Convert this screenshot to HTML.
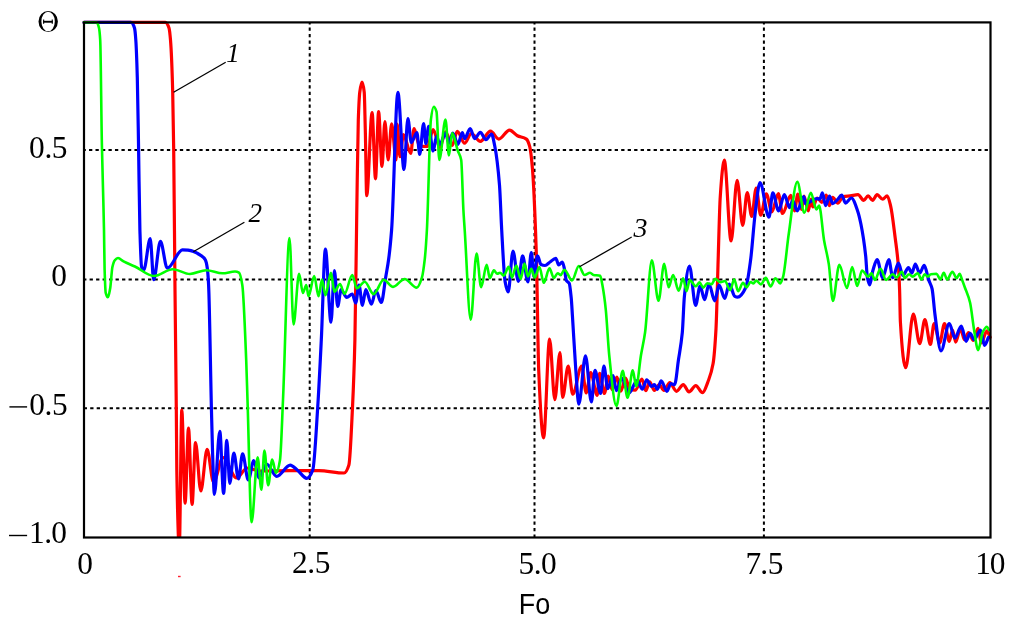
<!DOCTYPE html>
<html><head><meta charset="utf-8"><style>
html,body{margin:0;padding:0;background:#fff;width:1017px;height:624px;overflow:hidden}
svg{display:block;will-change:transform}
.g{stroke:#000;stroke-width:2;fill:none}
.f{stroke:#000;stroke-width:2.2;fill:none}
.l{stroke:#000;stroke-width:1.3}
.r{stroke:#ff0000;stroke-width:3.2;fill:none;stroke-linejoin:round;stroke-linecap:round}
.b{stroke:#0000ff;stroke-width:3.2;fill:none;stroke-linejoin:round;stroke-linecap:round}
.gr{stroke:#00ff00;stroke-width:2.6;fill:none;stroke-linejoin:round;stroke-linecap:round}
text{font-family:"Liberation Serif",serif;fill:#000}
.s{font-family:"Liberation Sans",sans-serif}
.i{font-style:italic}
</style></head><body>
<svg width="1017" height="624" viewBox="0 0 1017 624">
<line x1="309.7" y1="22.4" x2="309.7" y2="537.5" class="g" stroke-dasharray="3.25 3.165" stroke-dashoffset="1.215"/>
<line x1="534.5" y1="22.4" x2="534.5" y2="537.5" class="g" stroke-dasharray="3.25 3.165" stroke-dashoffset="1.215"/>
<line x1="763.9" y1="22.4" x2="763.9" y2="537.5" class="g" stroke-dasharray="3.25 3.165" stroke-dashoffset="1.215"/>
<line x1="84.0" y1="150.0" x2="990.5" y2="150.0" class="g" stroke-dasharray="3.3 3.19" stroke-dashoffset="1.49"/>
<line x1="84.0" y1="279.5" x2="990.5" y2="279.5" class="g" stroke-dasharray="3.3 3.19" stroke-dashoffset="0.89"/>
<line x1="84.0" y1="408.2" x2="990.5" y2="408.2" class="g" stroke-dasharray="3.3 3.19" stroke-dashoffset="0.29"/>
<defs><clipPath id="c"><rect x="0" y="0" width="1017" height="537.2"/></clipPath></defs>
<path class="r" clip-path="url(#c)" d="M84.0 22.4C111.1 22.4 138.3 22.4 165.4 22.4C166.6 22.4 167.8 24.6 169.0 28.0C169.5 29.4 170.0 34.2 170.5 40.0C171.2 48.5 172.0 66.0 172.7 92.0C173.0 103.8 173.4 125.2 173.7 150.0C174.1 182.3 174.6 247.3 175.0 290.0C175.4 332.7 175.9 361.5 176.3 408.0C176.5 425.9 176.6 460.4 176.8 470.0C177.6 517.9 178.5 548.0 179.3 548.0C180.1 548.0 181.0 410.1 181.8 410.1C182.9 410.1 184.0 503.2 185.1 503.2C186.2 503.2 187.4 428.0 188.5 428.0C189.7 428.0 190.9 504.4 192.1 504.4C193.2 504.4 194.4 442.6 195.5 442.6C197.3 442.6 199.0 490.9 200.8 490.9C202.9 490.9 205.0 449.4 207.1 449.4C209.2 449.4 211.4 482.0 213.5 482.0C216.7 482.0 219.8 457.5 223.0 457.5C227.5 457.5 232.0 478.0 236.5 478.0C240.0 478.0 243.5 468.0 247.0 468.0C251.3 468.0 255.7 471.0 260.0 471.0C270.0 471.0 280.0 470.6 290.0 470.6C299.6 470.6 309.3 470.6 318.9 470.6C327.3 470.6 335.7 473.0 344.1 473.0C345.7 473.0 347.3 470.0 348.9 465.0C350.1 461.2 351.3 432.2 352.5 407.3C353.3 390.7 354.1 372.3 354.9 340.0C355.5 314.4 356.2 250.4 356.8 210.0C357.3 178.1 357.8 134.2 358.3 120.0C358.8 105.8 359.3 95.8 359.8 92.0C360.5 86.4 361.3 82.0 362.0 82.0C362.7 82.0 363.5 85.6 364.2 92.0C364.6 95.2 364.9 115.5 365.3 130.0C365.8 148.5 366.2 195.7 366.7 195.7C368.5 195.7 370.3 112.6 372.1 112.6C373.2 112.6 374.4 178.8 375.5 178.8C376.5 178.8 377.6 111.5 378.6 111.5C379.7 111.5 380.9 166.5 382.0 166.5C383.0 166.5 383.9 121.6 384.9 121.6C386.0 121.6 387.1 159.8 388.2 159.8C389.3 159.8 390.5 123.9 391.6 123.9C393.1 123.9 394.6 159.8 396.1 159.8C396.5 159.8 396.8 124.1 397.2 124.1C398.1 124.1 399.1 156.6 400.0 156.6C401.1 156.6 402.3 134.7 403.4 134.7C405.8 134.7 408.3 153.3 410.7 153.3C411.8 153.3 413.0 128.6 414.1 128.6C415.9 128.6 417.7 145.8 419.5 146.0C422.2 146.3 424.8 146.5 427.5 146.5C429.4 146.5 431.3 129.7 433.2 129.7C435.4 129.7 437.7 147.6 439.9 147.6C441.8 147.6 443.6 131.9 445.5 131.9C447.7 131.9 450.0 145.4 452.2 145.4C453.9 145.4 455.6 131.4 457.3 131.4C459.7 131.4 462.2 143.2 464.6 143.2C466.9 143.2 469.1 133.5 471.4 133.5C474.4 133.5 477.4 141.3 480.4 141.3C483.8 141.3 487.1 131.2 490.5 131.2C493.3 131.2 496.0 139.1 498.8 139.1C502.4 139.1 506.0 130.1 509.6 130.1C512.2 130.1 514.8 134.4 517.4 135.7C520.4 137.2 523.4 136.9 526.4 139.1C527.5 139.9 528.7 142.7 529.8 146.9C530.7 150.2 531.6 158.9 532.5 169.4C533.2 177.9 534.0 193.4 534.7 209.8C535.3 223.2 535.9 238.7 536.5 260.0C537.2 286.0 538.0 352.9 538.7 370.0C540.3 408.1 542.0 437.8 543.6 437.8C545.6 437.8 547.6 339.1 549.6 339.1C551.3 339.1 553.1 399.7 554.8 399.7C556.5 399.7 558.3 352.5 560.0 352.5C560.9 352.5 561.7 397.4 562.6 397.4C564.5 397.4 566.3 366.0 568.2 366.0C569.7 366.0 571.2 394.1 572.7 394.1C575.7 394.1 578.7 366.0 581.7 366.0C583.2 366.0 584.7 392.9 586.2 392.9C587.7 392.9 589.2 372.7 590.7 372.7C592.9 372.7 595.0 395.4 597.2 395.4C598.0 395.4 598.8 373.3 599.6 373.3C601.2 373.3 602.8 393.5 604.4 393.5C605.7 393.5 607.0 376.2 608.3 376.2C609.6 376.2 610.8 389.6 612.1 389.6C613.7 389.6 615.3 377.1 616.9 377.1C618.2 377.1 619.5 391.1 620.8 391.1C622.4 391.1 624.0 378.1 625.6 378.1C626.9 378.1 628.1 388.1 629.4 388.7C631.3 389.6 633.3 390.1 635.2 390.1C637.4 390.1 639.7 379.0 641.9 379.0C643.2 379.0 644.5 390.6 645.8 390.6C647.1 390.6 648.3 381.9 649.6 381.9C651.2 381.9 652.8 390.4 654.4 390.4C656.0 390.4 657.6 384.6 659.2 384.6C660.8 384.6 662.4 390.4 664.0 390.4C665.9 390.4 667.9 382.7 669.8 382.7C672.0 382.7 674.3 391.3 676.5 391.3C678.8 391.3 681.0 384.6 683.3 384.6C685.2 384.6 687.1 391.9 689.0 391.9C691.3 391.9 693.5 385.6 695.8 385.6C698.0 385.6 700.3 392.7 702.5 392.7C704.4 392.7 706.4 385.9 708.3 380.8C709.9 376.6 711.5 372.8 713.1 363.5C714.1 357.9 715.0 346.2 716.0 328.8C716.3 323.4 716.6 313.1 716.9 303.8C717.3 292.4 717.6 276.9 718.0 264.9C718.8 239.8 719.5 207.2 720.3 196.1C721.6 176.8 723.0 160.2 724.3 160.2C726.6 160.2 728.8 241.0 731.1 241.0C733.1 241.0 735.1 180.4 737.1 180.4C739.0 180.4 740.8 225.3 742.7 225.3C744.2 225.3 745.7 192.7 747.2 192.7C748.7 192.7 750.2 216.3 751.7 216.3C753.2 216.3 754.7 188.2 756.2 188.2C757.7 188.2 759.2 215.2 760.7 215.2C762.6 215.2 764.4 193.9 766.3 193.9C768.2 193.9 770.0 211.8 771.9 211.8C774.0 211.8 776.2 193.5 778.3 193.5C779.7 193.5 781.1 213.5 782.5 213.5C785.3 213.5 788.0 195.4 790.8 195.4C792.0 195.4 793.3 211.0 794.5 211.0C795.6 211.0 796.7 194.0 797.8 194.0C799.0 194.0 800.3 209.5 801.5 209.5C802.3 209.5 803.2 196.0 804.0 196.0C805.4 196.0 806.9 210.8 808.3 210.8C809.2 210.8 810.1 199.2 811.0 199.2C811.6 199.2 812.2 206.9 812.8 206.9C814.3 206.9 815.8 198.0 817.3 198.0C818.8 198.0 820.3 202.4 821.8 202.4C823.3 202.4 824.8 195.1 826.3 195.1C827.4 195.1 828.4 205.6 829.5 205.6C830.6 205.6 831.6 197.3 832.7 197.3C834.4 197.3 836.1 203.1 837.8 203.1C839.5 203.1 841.3 197.1 843.0 196.7C845.4 196.1 847.8 196.1 850.2 195.8C852.8 195.5 855.4 194.7 858.0 194.7C859.9 194.7 861.8 200.3 863.7 200.3C865.2 200.3 866.6 195.8 868.1 195.8C869.6 195.8 871.1 200.3 872.6 200.3C874.1 200.3 875.6 194.7 877.1 194.7C879.0 194.7 880.8 199.2 882.7 199.2C884.2 199.2 885.7 195.8 887.2 195.8C888.3 195.8 889.5 201.3 890.6 205.9C892.1 212.0 893.6 225.5 895.1 237.3C896.2 245.9 897.3 252.3 898.4 266.5C898.8 271.7 899.2 279.2 899.6 290.0C899.9 297.2 900.1 317.5 900.4 322.0C902.2 351.8 903.9 367.7 905.7 367.7C908.2 367.7 910.8 314.0 913.3 314.0C915.4 314.0 917.6 343.7 919.7 343.7C921.4 343.7 923.2 319.6 924.9 319.6C926.7 319.6 928.6 344.5 930.4 344.5C931.6 344.5 932.9 323.6 934.1 323.6C936.0 323.6 937.8 342.9 939.7 342.9C941.3 342.9 942.9 323.6 944.5 323.6C946.1 323.6 947.7 341.3 949.3 341.3C950.4 341.3 951.4 330.0 952.5 330.0C953.6 330.0 954.6 342.1 955.7 342.1C957.3 342.1 958.9 328.4 960.5 328.4C961.8 328.4 963.2 339.7 964.5 339.7C965.8 339.7 967.2 332.5 968.5 332.5C970.1 332.5 971.7 340.5 973.3 340.5C974.9 340.5 976.5 328.4 978.1 328.4C979.2 328.4 980.2 342.9 981.3 342.9C983.2 342.9 985.0 330.9 986.9 330.9C988.0 330.9 989.0 335.2 990.1 337.3"/>
<path class="b" d="M84.0 22.4C99.7 22.4 115.3 22.4 131.0 22.4C132.2 22.4 133.3 24.4 134.5 28.0C134.9 29.3 135.4 34.2 135.8 40.0C136.3 46.7 136.8 60.1 137.3 77.5C137.7 92.6 138.2 124.6 138.6 150.0C139.0 175.4 139.5 215.8 139.9 230.0C140.5 248.6 141.0 265.6 141.6 267.0C142.3 268.8 143.1 269.8 143.8 269.8C145.9 269.8 148.1 238.7 150.2 238.7C151.4 238.7 152.5 279.7 153.7 279.7C155.9 279.7 158.2 241.3 160.4 241.3C162.7 241.3 165.0 268.2 167.3 268.2C172.4 268.2 177.4 249.8 182.5 249.8C184.3 249.8 186.2 250.0 188.0 250.2C192.5 250.7 197.0 252.9 201.5 255.8C202.8 256.6 204.1 257.6 205.4 260.0C206.0 261.2 206.7 264.0 207.3 268.3C207.7 271.2 208.2 276.9 208.6 285.0C209.5 302.4 210.5 370.3 211.4 408.0C211.8 422.8 212.1 439.2 212.5 450.0C213.1 468.7 213.8 494.3 214.4 494.3C216.2 494.3 218.0 431.4 219.8 431.4C221.1 431.4 222.3 493.4 223.6 493.4C224.7 493.4 225.7 440.4 226.8 440.4C227.8 440.4 228.8 483.3 229.8 483.3C231.1 483.3 232.5 453.0 233.8 453.0C235.4 453.0 236.9 478.9 238.5 478.9C239.9 478.9 241.2 453.9 242.6 453.9C244.5 453.9 246.4 480.0 248.3 480.0C250.1 480.0 252.0 460.7 253.8 460.7C255.5 460.7 257.3 478.0 259.0 478.0C261.5 478.0 264.1 464.0 266.6 464.0C270.0 464.0 273.3 476.3 276.7 476.3C281.2 476.3 285.7 465.1 290.2 465.1C292.5 465.1 294.9 468.1 297.2 469.9C300.4 472.3 303.6 478.3 306.8 478.3C308.8 478.3 310.8 475.1 312.8 469.9C314.4 465.7 316.1 432.3 317.7 407.3C318.9 388.9 320.1 364.3 321.3 340.0C322.7 312.3 324.0 249.2 325.4 249.2C327.3 249.2 329.1 322.1 331.0 322.1C332.1 322.1 333.3 270.5 334.4 270.5C335.5 270.5 336.6 306.4 337.7 306.4C338.8 306.4 340.0 289.6 341.1 289.6C343.0 289.6 344.8 297.4 346.7 297.4C348.6 297.4 350.4 294.0 352.3 294.0C353.4 294.0 354.6 303.0 355.7 303.0C356.8 303.0 357.9 285.0 359.0 285.0C360.1 285.0 361.3 305.3 362.4 305.3C363.5 305.3 364.7 289.6 365.8 289.6C367.7 289.6 369.5 304.2 371.4 304.2C372.9 304.2 374.4 290.5 375.9 290.5C377.7 290.5 379.4 302.5 381.2 302.5C382.8 302.5 384.3 285.4 385.9 276.1C386.8 270.6 387.8 265.9 388.7 258.8C389.7 251.4 390.6 242.6 391.6 230.0C393.7 202.6 395.8 92.4 397.9 92.4C399.9 92.4 402.0 169.5 404.0 169.5C405.3 169.5 406.6 118.5 407.9 118.5C409.0 118.5 410.2 142.6 411.3 142.6C413.2 142.6 415.0 132.5 416.9 132.5C417.8 132.5 418.8 154.4 419.7 154.4C421.0 154.4 422.3 123.5 423.6 123.5C424.4 123.5 425.1 143.7 425.9 143.7C426.8 143.7 427.8 126.3 428.7 126.3C430.2 126.3 431.7 151.0 433.2 151.0C434.3 151.0 435.4 136.4 436.5 136.4C437.6 136.4 438.8 144.3 439.9 144.3C441.8 144.3 443.6 133.1 445.5 133.1C446.6 133.1 447.8 143.2 448.9 143.2C450.2 143.2 451.5 133.1 452.8 133.1C454.5 133.1 456.2 144.3 457.9 144.3C459.4 144.3 460.8 132.5 462.3 132.5C463.1 132.5 463.8 138.7 464.6 138.7C466.5 138.7 468.3 128.6 470.2 128.6C471.7 128.6 473.2 138.7 474.7 138.7C476.6 138.7 478.4 132.4 480.3 132.4C482.2 132.4 484.0 139.6 485.9 139.6C487.8 139.6 489.6 134.0 491.5 134.0C492.6 134.0 493.7 140.8 494.8 146.3C496.4 154.2 497.9 165.7 499.5 185.1C500.2 194.2 501.0 217.1 501.7 230.0C502.8 249.9 504.0 275.5 505.1 281.6C506.1 287.2 507.2 291.9 508.2 291.9C509.8 291.9 511.4 251.0 513.0 251.0C514.8 251.0 516.5 281.3 518.3 281.3C519.7 281.3 521.2 255.9 522.6 255.9C524.4 255.9 526.1 281.8 527.9 281.8C529.0 281.8 530.2 252.5 531.3 252.5C532.2 252.5 533.0 276.5 533.9 276.5C535.1 276.5 536.3 255.9 537.5 255.9C538.7 255.9 539.8 264.0 541.0 264.5C542.3 265.1 543.7 265.5 545.0 265.5C546.7 265.5 548.3 263.1 550.0 262.0C551.9 260.7 553.9 258.3 555.8 258.3C556.8 258.3 557.7 265.0 558.7 265.0C559.9 265.0 561.1 262.0 562.3 262.0C563.0 262.0 563.7 265.8 564.4 268.8C565.0 271.5 565.7 279.3 566.3 280.4C567.3 282.1 568.2 281.5 569.2 283.3C569.9 284.5 570.5 291.1 571.2 297.7C571.6 301.7 572.0 309.2 572.4 315.3C573.5 332.6 574.7 354.9 575.8 370.0C576.8 383.3 577.8 404.2 578.8 404.2C581.0 404.2 583.3 355.9 585.5 355.9C587.5 355.9 589.4 401.9 591.4 401.9C592.6 401.9 593.8 370.4 595.0 370.4C596.9 370.4 598.7 393.5 600.6 393.5C601.7 393.5 602.8 366.1 603.9 366.1C605.2 366.1 606.5 388.7 607.8 388.7C609.6 388.7 611.3 375.7 613.1 375.7C614.2 375.7 615.3 390.6 616.4 390.6C618.2 390.6 619.9 378.1 621.7 378.1C624.1 378.1 626.5 393.0 628.9 393.0C631.6 393.0 634.4 380.5 637.1 380.5C638.9 380.5 640.6 389.1 642.4 389.1C643.8 389.1 645.3 379.8 646.7 379.8C648.3 379.8 649.9 386.5 651.5 386.5C652.5 386.5 653.4 384.6 654.4 384.6C655.4 384.6 656.3 389.4 657.3 389.4C658.6 389.4 659.9 380.8 661.2 380.8C663.1 380.8 665.0 391.3 666.9 391.3C668.2 391.3 669.5 383.7 670.8 383.7C672.1 383.7 673.3 384.6 674.6 384.6C675.9 384.6 677.2 368.3 678.5 359.6C679.8 351.1 681.0 346.0 682.3 332.7C683.0 325.4 683.7 302.9 684.4 296.3C686.1 280.2 687.8 266.0 689.5 266.0C691.5 266.0 693.6 305.3 695.6 305.3C697.1 305.3 698.6 286.2 700.1 286.2C701.6 286.2 703.1 299.7 704.6 299.7C706.1 299.7 707.5 284.0 709.0 284.0C710.9 284.0 712.8 300.8 714.7 300.8C716.2 300.8 717.6 285.1 719.1 285.1C721.0 285.1 722.9 298.5 724.8 298.5C726.3 298.5 727.7 284.0 729.2 284.0C731.1 284.0 732.9 295.3 734.8 296.3C735.7 296.8 736.7 297.2 737.6 297.2C740.3 297.2 743.1 293.2 745.8 287.5C747.4 284.2 749.0 271.8 750.6 260.0C752.1 249.0 753.6 226.0 755.1 214.1C756.7 201.2 758.4 182.6 760.0 182.6C763.0 182.6 766.0 217.2 769.0 217.2C770.3 217.2 771.5 192.8 772.8 192.8C774.7 192.8 776.7 210.8 778.6 210.8C780.5 210.8 782.5 194.7 784.4 194.7C786.1 194.7 787.8 207.6 789.5 207.6C790.6 207.6 791.6 200.5 792.7 200.5C794.2 200.5 795.7 210.8 797.2 210.8C799.4 210.8 801.6 196.7 803.8 196.7C804.4 196.7 804.9 203.7 805.5 203.7C809.2 203.7 813.0 198.6 816.7 198.6C817.8 198.6 818.8 199.2 819.9 199.2C820.7 199.2 821.6 192.8 822.4 192.8C823.5 192.8 824.5 205.6 825.6 205.6C826.9 205.6 828.2 196.0 829.5 196.0C830.6 196.0 831.6 203.7 832.7 203.7C834.2 203.7 835.7 201.3 837.2 199.9C838.7 198.5 840.2 195.1 841.7 195.1C843.0 195.1 844.2 203.1 845.5 203.1C847.4 203.1 849.4 198.0 851.3 198.0C853.4 198.0 855.6 205.2 857.7 211.2C858.8 214.2 859.8 218.7 860.9 224.0C862.5 231.9 864.1 241.2 865.7 256.1C866.2 261.1 866.8 274.0 867.3 276.9C868.1 281.3 868.9 284.9 869.7 284.9C870.8 284.9 871.8 274.0 872.9 270.5C874.3 265.9 875.7 259.7 877.1 259.7C879.0 259.7 880.8 277.7 882.7 277.7C884.7 277.7 886.8 259.7 888.8 259.7C890.1 259.7 891.5 277.7 892.8 277.7C894.7 277.7 896.5 263.1 898.4 263.1C899.9 263.1 901.4 275.5 902.9 275.5C904.8 275.5 906.6 267.6 908.5 267.6C909.6 267.6 910.8 273.2 911.9 273.2C913.0 273.2 914.2 264.2 915.3 264.2C916.8 264.2 918.2 273.2 919.7 273.2C921.2 273.2 922.7 265.4 924.2 265.4C925.7 265.4 927.2 275.6 928.7 279.9C929.8 283.2 931.0 284.2 932.1 288.9C933.0 292.8 934.0 307.1 934.9 314.0C936.9 329.0 939.0 350.9 941.0 350.9C943.8 350.9 946.5 323.6 949.3 323.6C951.2 323.6 953.0 338.1 954.9 338.1C957.0 338.1 959.2 326.0 961.3 326.0C962.9 326.0 964.5 341.3 966.1 341.3C967.4 341.3 968.8 333.3 970.1 333.3C971.4 333.3 972.8 339.7 974.1 339.7C976.2 339.7 978.4 330.0 980.5 330.0C981.8 330.0 983.2 345.3 984.5 345.3C985.8 345.3 987.2 340.0 988.5 337.3"/>
<path class="gr" d="M84.0 22.4C88.2 22.4 92.5 22.4 96.7 22.4C97.5 22.4 98.2 24.8 99.0 28.0C99.4 29.7 99.8 33.4 100.2 40.0C100.8 49.4 101.3 118.0 101.9 145.0C102.4 167.3 102.8 180.8 103.3 200.0C103.5 209.6 103.8 217.8 104.0 230.0C104.2 240.4 104.4 262.5 104.6 269.3C105.0 281.7 105.3 291.3 105.7 292.8C106.4 295.8 107.2 297.3 107.9 297.3C108.7 297.3 109.4 292.6 110.2 288.3C110.9 284.2 111.7 270.3 112.4 267.0C113.2 263.6 113.9 261.2 114.7 260.3C115.8 259.0 116.9 258.0 118.0 258.0C119.9 258.0 121.7 260.4 123.6 261.4C127.4 263.4 131.1 264.7 134.9 266.5C141.3 269.5 147.6 276.0 154.0 276.0C160.2 276.0 166.5 269.2 172.7 269.2C178.5 269.2 184.2 274.0 190.0 274.0C195.4 274.0 200.9 270.2 206.3 270.2C211.7 270.2 217.1 273.3 222.5 273.3C226.7 273.3 230.8 271.5 235.0 271.5C236.3 271.5 237.7 271.9 239.0 272.7C240.1 273.3 241.2 278.3 242.3 285.0C243.6 293.0 244.9 328.0 246.2 360.0C246.6 370.7 247.1 386.8 247.5 400.0C248.9 441.5 250.2 522.3 251.6 522.3C253.6 522.3 255.6 457.2 257.6 457.2C258.9 457.2 260.1 489.8 261.4 489.8C262.4 489.8 263.4 450.5 264.4 450.5C265.7 450.5 266.9 485.3 268.2 485.3C269.5 485.3 270.9 459.5 272.2 459.5C273.5 459.5 274.7 472.9 276.0 472.9C277.3 472.9 278.7 467.7 280.0 460.0C281.0 454.2 282.0 421.9 283.0 400.0C285.2 352.6 287.3 238.0 289.5 238.0C290.8 238.0 292.2 324.4 293.5 324.4C295.4 324.4 297.2 273.9 299.1 273.9C300.4 273.9 301.6 293.0 302.9 293.0C304.0 293.0 305.2 285.0 306.3 285.0C307.0 285.0 307.8 296.3 308.5 296.3C310.4 296.3 312.3 276.1 314.2 276.1C315.7 276.1 317.1 296.3 318.6 296.3C319.7 296.3 320.9 279.5 322.0 279.5C323.1 279.5 324.3 295.2 325.4 295.2C327.3 295.2 329.1 272.7 331.0 272.7C332.1 272.7 333.3 291.8 334.4 291.8C336.3 291.8 338.1 284.0 340.0 284.0C341.5 284.0 343.0 294.0 344.5 294.0C347.1 294.0 349.7 275.0 352.3 275.0C353.8 275.0 355.3 288.4 356.8 288.4C359.4 288.4 362.1 281.7 364.7 281.7C367.7 281.7 370.6 294.1 373.6 294.1C377.0 294.1 380.3 279.7 383.7 279.7C386.8 279.7 390.0 286.9 393.1 286.9C396.9 286.9 400.8 279.0 404.6 279.0C408.7 279.0 412.7 287.6 416.8 287.6C418.5 287.6 420.2 283.0 421.9 277.6C422.9 274.5 423.8 267.5 424.8 258.8C425.5 252.5 426.2 242.4 426.9 230.0C428.2 206.4 429.6 129.7 430.9 119.6C431.8 112.5 432.8 106.7 433.7 106.7C434.6 106.7 435.6 108.7 436.5 111.7C437.4 114.7 438.4 160.0 439.3 160.0C441.4 160.0 443.4 119.6 445.5 119.6C446.6 119.6 447.8 155.5 448.9 155.5C450.0 155.5 451.1 133.1 452.2 133.1C454.1 133.1 456.0 145.5 457.9 151.0C459.0 154.2 460.1 154.3 461.2 160.0C461.9 163.8 462.7 196.8 463.4 210.0C463.8 217.8 464.3 223.4 464.7 230.0C466.7 260.4 468.7 319.8 470.7 319.8C472.7 319.8 474.6 253.6 476.6 253.6C478.1 253.6 479.6 287.2 481.1 287.2C483.0 287.2 484.8 264.8 486.7 264.8C487.7 264.8 488.8 278.2 489.8 278.2C491.2 278.2 492.5 270.4 493.9 270.4C495.0 270.4 496.1 273.8 497.2 273.8C498.1 273.8 499.1 272.7 500.0 272.7C501.3 272.7 502.5 275.6 503.8 275.6C505.4 275.6 507.1 266.9 508.7 266.9C509.8 266.9 510.9 277.5 512.0 277.5C513.4 277.5 514.9 265.5 516.3 265.5C517.8 265.5 519.2 279.0 520.7 279.0C522.0 279.0 523.2 263.6 524.5 263.6C525.6 263.6 526.8 276.5 527.9 276.5C529.0 276.5 530.2 268.8 531.3 268.8C532.4 268.8 533.5 277.5 534.6 277.5C536.2 277.5 537.8 267.0 539.4 267.0C540.9 267.0 542.3 282.8 543.8 282.8C545.7 282.8 547.6 268.4 549.5 268.4C550.9 268.4 552.4 278.0 553.8 278.0C555.1 278.0 556.4 273.2 557.7 273.2C558.7 273.2 559.6 275.1 560.6 275.1C561.9 275.1 563.1 269.8 564.4 269.8C567.0 269.8 569.5 280.4 572.1 280.4C574.3 280.4 576.6 266.0 578.8 266.0C580.7 266.0 582.6 275.0 584.5 275.0C586.4 275.0 588.2 272.7 590.1 272.7C591.2 272.7 592.4 274.8 593.5 275.0C595.7 275.4 598.0 275.2 600.2 275.7C600.9 275.9 601.7 281.2 602.4 285.1C603.5 291.1 604.7 299.2 605.8 309.8C606.9 320.4 608.1 344.1 609.2 355.0C611.6 378.0 614.0 406.0 616.4 406.0C618.5 406.0 620.6 370.9 622.7 370.9C624.3 370.9 625.9 397.8 627.5 397.8C629.3 397.8 631.0 370.4 632.8 370.4C633.9 370.4 635.1 386.3 636.2 386.3C637.8 386.3 639.4 364.6 641.0 355.0C642.4 346.8 643.7 342.0 645.1 332.2C647.3 316.3 649.6 260.4 651.8 260.4C654.0 260.4 656.3 300.8 658.5 300.8C660.4 300.8 662.3 263.8 664.2 263.8C665.7 263.8 667.1 287.3 668.6 287.3C670.1 287.3 671.6 275.0 673.1 275.0C675.0 275.0 676.8 290.7 678.7 290.7C680.2 290.7 681.6 278.3 683.1 278.3C684.3 278.3 685.4 291.1 686.6 291.1C687.6 291.1 688.7 280.1 689.7 280.1C691.8 280.1 693.8 286.3 695.9 286.3C697.1 286.3 698.2 282.3 699.4 282.3C700.7 282.3 702.0 287.6 703.3 287.6C704.6 287.6 706.0 283.2 707.3 283.2C708.8 283.2 710.2 284.1 711.7 284.1C712.9 284.1 714.0 278.8 715.2 278.8C717.0 278.8 718.7 282.3 720.5 282.3C722.0 282.3 723.4 281.0 724.9 281.0C726.7 281.0 728.4 290.2 730.2 290.2C731.5 290.2 732.9 279.2 734.2 279.2C735.5 279.2 736.8 291.1 738.1 291.1C739.8 291.1 741.4 282.7 743.1 282.7C744.2 282.7 745.4 287.5 746.5 287.5C747.9 287.5 749.2 282.0 750.6 282.0C751.5 282.0 752.5 283.4 753.4 283.4C754.3 283.4 755.3 280.6 756.2 280.6C757.8 280.6 759.4 284.4 761.0 284.4C762.6 284.4 764.2 277.9 765.8 277.9C767.4 277.9 769.0 286.5 770.6 286.5C772.2 286.5 773.8 278.2 775.4 278.2C777.0 278.2 778.6 283.4 780.2 283.4C781.1 283.4 782.1 280.2 783.0 277.2C784.9 271.1 786.8 247.2 788.7 234.3C791.6 214.9 794.4 181.9 797.3 181.9C799.7 181.9 802.0 212.7 804.4 212.7C806.5 212.7 808.7 192.8 810.8 192.8C812.7 192.8 814.6 209.5 816.5 209.5C817.4 209.5 818.2 205.6 819.1 205.6C820.7 205.6 822.4 230.4 824.0 240.0C825.6 249.4 827.2 253.7 828.8 264.1C830.2 273.0 831.5 301.0 832.9 301.0C835.0 301.0 837.2 264.9 839.3 264.9C841.9 264.9 844.4 288.0 847.0 288.0C848.7 288.0 850.5 267.0 852.2 267.0C853.9 267.0 855.5 286.0 857.2 286.0C858.8 286.0 860.4 270.5 862.0 270.5C864.0 270.5 866.1 276.6 868.1 276.6C869.2 276.6 870.4 273.2 871.5 273.2C872.6 273.2 873.8 279.9 874.9 279.9C876.8 279.9 878.6 268.7 880.5 268.7C882.4 268.7 884.2 279.9 886.1 279.9C888.3 279.9 890.6 274.3 892.8 274.3C894.0 274.3 895.3 277.5 896.5 277.5C898.3 277.5 900.1 271.8 901.9 271.8C902.9 271.8 903.8 278.1 904.8 278.1C906.2 278.1 907.7 274.2 909.1 274.2C910.2 274.2 911.4 276.6 912.5 276.6C914.3 276.6 916.0 273.3 917.8 273.3C919.1 273.3 920.3 279.5 921.6 279.5C922.6 279.5 923.5 274.2 924.5 274.2C925.6 274.2 926.8 276.6 927.9 276.6C928.9 276.6 929.8 274.3 930.8 274.2C932.7 273.9 934.6 273.8 936.5 273.8C937.8 273.8 939.1 279.5 940.4 279.5C941.5 279.5 942.6 272.8 943.8 272.8C944.9 272.8 946.0 279.5 947.1 279.5C948.9 279.5 950.6 271.8 952.4 271.8C953.8 271.8 955.3 278.1 956.7 278.1C957.7 278.1 958.6 273.8 959.6 273.8C960.6 273.8 961.5 278.5 962.5 281.0C963.2 282.8 963.9 284.7 964.6 286.7C966.4 291.8 968.3 295.1 970.1 302.8C971.4 308.4 972.8 322.3 974.1 330.0C975.4 337.7 976.8 350.1 978.1 350.1C979.7 350.1 981.3 334.6 982.9 331.7C984.2 329.3 985.6 326.8 986.9 326.8C987.6 326.8 988.3 328.9 989.0 330.0"/>
<rect x="84.0" y="22.4" width="906.5" height="515.1" class="f"/>
<line x1="173.6" y1="92.3" x2="225.7" y2="62.3" class="l"/>
<line x1="193.3" y1="251.8" x2="244.4" y2="222.3" class="l"/>
<line x1="579.5" y1="266.7" x2="631.7" y2="237" class="l"/>
<path fill-rule="evenodd" d="M38.5 21.5a9.7 10.5 0 1 0 19.4 0a9.7 10.5 0 1 0 -19.4 0ZM41.4 21.5a6.7 9.75 0 1 0 13.4 0a6.7 9.75 0 1 0 -13.4 0Z"/><rect x="43.2" y="20.8" width="9.5" height="1.9"/><rect x="43.1" y="19.5" width="1.1" height="4.3"/><rect x="51.7" y="19.5" width="1.1" height="4.3"/>
<rect x="178" y="575.8" width="2.6" height="1.4" fill="#ff2030"/>
<text transform="translate(534.5 614.4) scale(0.9 1)" font-size="30" class="s" text-anchor="middle">Fo</text>
<text x="233" y="62.1" font-size="27" class="i" text-anchor="middle">1</text>
<text x="255.3" y="221.6" font-size="27" class="i" text-anchor="middle">2</text>
<text x="640.5" y="237" font-size="28" class="i" text-anchor="middle">3</text>

<text transform="translate(36.80 157.90) scale(0.98 1)" font-size="32" text-anchor="middle">0</text>
<text transform="translate(48.40 157.90) scale(0.98 1)" font-size="32" text-anchor="middle">.</text>
<text transform="translate(59.60 157.90) scale(0.98 1)" font-size="32" text-anchor="middle">5</text>
<text transform="translate(59.20 286.40) scale(0.98 1)" font-size="32" text-anchor="middle">0</text>
<text transform="translate(37.00 414.80) scale(0.98 1)" font-size="32" text-anchor="middle">0</text>
<text transform="translate(48.40 414.80) scale(0.98 1)" font-size="32" text-anchor="middle">.</text>
<text transform="translate(59.80 414.80) scale(0.98 1)" font-size="32" text-anchor="middle">5</text>
<text transform="translate(36.80 543.00) scale(0.98 1)" font-size="32" text-anchor="middle">1</text>
<text transform="translate(48.20 543.00) scale(0.98 1)" font-size="32" text-anchor="middle">.</text>
<text transform="translate(59.20 543.00) scale(0.98 1)" font-size="32" text-anchor="middle">0</text>
<text transform="translate(85.00 573.50) scale(0.98 1)" font-size="32" text-anchor="middle">0</text>
<text transform="translate(299.80 573.30) scale(0.98 1)" font-size="32" text-anchor="middle">2</text>
<text transform="translate(311.25 573.30) scale(0.98 1)" font-size="32" text-anchor="middle">.</text>
<text transform="translate(322.70 573.30) scale(0.98 1)" font-size="32" text-anchor="middle">5</text>
<text transform="translate(526.30 574.00) scale(0.98 1)" font-size="32" text-anchor="middle">5</text>
<text transform="translate(537.60 574.00) scale(0.98 1)" font-size="32" text-anchor="middle">.</text>
<text transform="translate(548.90 574.00) scale(0.98 1)" font-size="32" text-anchor="middle">0</text>
<text transform="translate(753.40 573.70) scale(0.98 1)" font-size="32" text-anchor="middle">7</text>
<text transform="translate(764.20 573.70) scale(0.98 1)" font-size="32" text-anchor="middle">.</text>
<text transform="translate(775.70 573.70) scale(0.98 1)" font-size="32" text-anchor="middle">5</text>
<text transform="translate(983.00 573.90) scale(0.98 1)" font-size="32" text-anchor="middle">1</text>
<text transform="translate(997.50 573.90) scale(0.98 1)" font-size="32" text-anchor="middle">0</text>
<rect x="9.4" y="406.2" width="17.7" height="1.4"/>
<rect x="9.0" y="534.8" width="18.1" height="1.4"/>
</svg>
</body></html>
